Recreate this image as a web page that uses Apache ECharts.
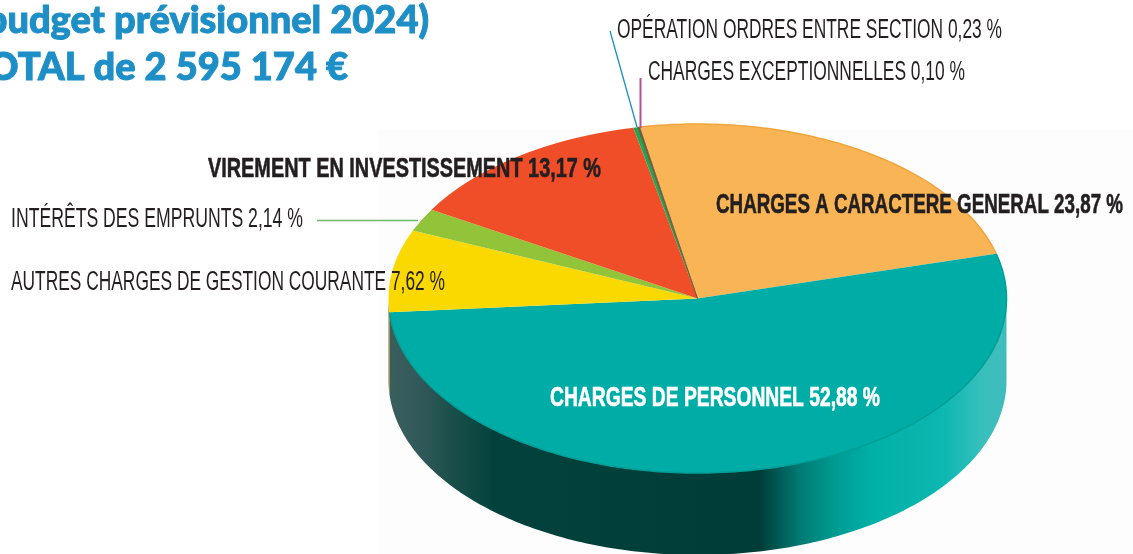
<!DOCTYPE html>
<html>
<head>
<meta charset="utf-8">
<title>Budget prévisionnel 2024</title>
<script src="https://cdn.jsdelivr.net/npm/echarts@6/dist/echarts.min.js"></script>
<style>
  html, body { margin: 0; padding: 0; background: #fff; overflow: hidden; }
  #chart { width: 1133px; height: 554px; }
</style>
</head>
<body>
<div id="chart"></div>
<script>
// clockwise from the top of the pie
const categories = [
  'CHARGES A CARACTERE GENERAL',
  'CHARGES DE PERSONNEL',
  'AUTRES CHARGES DE GESTION COURANTE',
  'INTÉRÊTS DES EMPRUNTS',
  'VIREMENT EN INVESTISSEMENT',
  'OPÉRATION ORDRES ENTRE SECTION',
  'CHARGES EXCEPTIONNELLES'
]
const percents = [23.87, 52.88, 7.62, 2.14, 13.17, 0.23, 0.10]
const titleLines = ['budget prévisionnel 2024)', 'TOTAL de 2 595 174 €']

const topColors = ['#f9b455', '#00ada6', '#f9d900', '#92c43a', '#f04e28', '#1fa84f', '#6b5a3a']
const sideColors = [null, null, '#8f7a20', null, null, null, null]
const rimColors = ['#f0a53c', '#009e96', null, null, null, null, null]

// pie geometry, in pixels
const cx = 697.5, cy = 298.5, rx = 309, ry = 174.5, depth = 82
const startDeg = -100.8

const total = percents.reduce((a, b) => a + b, 0)
let acc = startDeg
const spans = percents.map(v => {
  const from = acc
  acc += v / total * 360
  return [from, acc]
})

const tealSide = {
  type: 'linear', global: true, x: cx - rx, y: 0, x2: cx + rx, y2: 0,
  colorStops: [
    { offset: 0, color: '#3a5f5c' },
    { offset: 0.05, color: '#32595a' },
    { offset: 0.1, color: '#1b4f4a' },
    { offset: 0.17, color: '#03423c' },
    { offset: 0.6, color: '#003c38' },
    { offset: 0.62, color: '#00504a' },
    { offset: 0.665, color: '#007a72' },
    { offset: 0.72, color: '#009a90' },
    { offset: 0.78, color: '#00b0a6' },
    { offset: 0.9, color: '#0cb8b1' },
    { offset: 0.96, color: '#38bfbb' },
    { offset: 1, color: '#3fbcbc' }
  ]
}

function arcPoints(a, b) {
  const pts = []
  for (let d = a; d < b; d += 1) {
    pts.push([cx + rx * Math.cos(d * Math.PI / 180), cy + ry * Math.sin(d * Math.PI / 180)])
  }
  pts.push([cx + rx * Math.cos(b * Math.PI / 180), cy + ry * Math.sin(b * Math.PI / 180)])
  return pts
}

function renderSlice(params, api) {
  const i = params.dataIndex
  const from = spans[i][0], to = spans[i][1]
  const children = []
  // side wall, only for the part of the slice on the lower half
  const a = Math.max(from, 0), b = Math.min(to, 180)
  if (b > a && (sideColors[i] || i === 1)) {
    const pts = arcPoints(a, b)
    const lower = pts.slice().reverse().map(p => [p[0], p[1] + depth])
    children.push({
      type: 'polygon',
      shape: { points: pts.concat(lower) },
      style: { fill: sideColors[i] || tealSide }
    })
  }
  children.push({
    type: 'sector',
    x: cx,
    y: cy,
    scaleY: ry / rx,
    shape: {
      cx: 0, cy: 0, r0: 0, r: rx,
      startAngle: from * Math.PI / 180,
      endAngle: to * Math.PI / 180,
      clockwise: true
    },
    style: i === 6
      ? { fill: topColors[i], stroke: topColors[i], lineWidth: 1, strokeNoScale: true }
      : { fill: topColors[i] }
  })
  if (rimColors[i]) {
    children.push({
      type: 'polyline',
      shape: { points: arcPoints(from, to) },
      style: { fill: 'none', stroke: rimColors[i], lineWidth: 1.5 }
    })
  }
  return { type: 'group', children: children }
}

function labelText(i) {
  return categories[i] + ' ' + percents[i].toFixed(2).replace('.', ',') + ' %'
}

// no condensed face is installed, so the labels are squeezed to the reference width
const fontSans = '"Liberation Sans", sans-serif'
const measure = document.createElement('canvas').getContext('2d')
function label(i, x, y, width, color, weight) {
  const font = (weight || 'normal') + ' 27px ' + fontSans
  measure.font = font
  return {
    type: 'text', x: x, y: y, z: 100,
    scaleX: width / measure.measureText(labelText(i)).width,
    style: {
      text: labelText(i), fill: color, font: font, verticalAlign: 'middle',
      stroke: weight ? color : null, lineWidth: weight ? 0.6 : 0
    }
  }
}
function leader(x1, y1, x2, y2, color, w) {
  return {
    type: 'line', z: 90,
    shape: { x1: x1, y1: y1, x2: x2, y2: y2 },
    style: { stroke: color, lineWidth: w }
  }
}
function title(text, x, y) {
  return {
    type: 'text', x: x, y: y, z: 100,
    style: {
      text: text, fill: '#1e8fc6', stroke: '#1e8fc6', lineWidth: 1,
      align: 'right', verticalAlign: 'middle',
      font: '900 38px Lato, sans-serif'
    }
  }
}

const chart = echarts.init(document.getElementById('chart'), null, { renderer: 'canvas' })
chart.setOption({
  animation: false,
  graphic: [
    { type: 'rect', z: 0, shape: { x: 378, y: 129, width: 755, height: 425 }, style: { fill: '#fdfdfd' } },
    title(titleLines[0], 429, 21),
    title(titleLines[1], 348, 68),
    leader(610, 31, 637, 127, '#1e8fc6', 1.3),
    leader(640.5, 78, 640.5, 128, '#b5509b', 2),
    leader(317, 220.5, 418, 220.5, '#6cba6c', 1.5),
    label(5, 617, 31, 385, '#231f20'),
    label(6, 648, 73, 317, '#231f20'),
    label(4, 208, 170, 393, '#231f20', 'bold'),
    label(3, 11, 220, 292, '#231f20'),
    label(2, 11, 283, 434, '#231f20'),
    label(0, 716, 206, 407, '#231f20', 'bold'),
    label(1, 550, 399, 330, '#ffffff', 'bold')
  ],
  series: [{
    type: 'custom',
    coordinateSystem: 'none',
    data: percents.map((v, i) => ({ name: categories[i], value: [v] })),
    renderItem: renderSlice,
    silent: true
  }]
})
</script>
</body>
</html>
